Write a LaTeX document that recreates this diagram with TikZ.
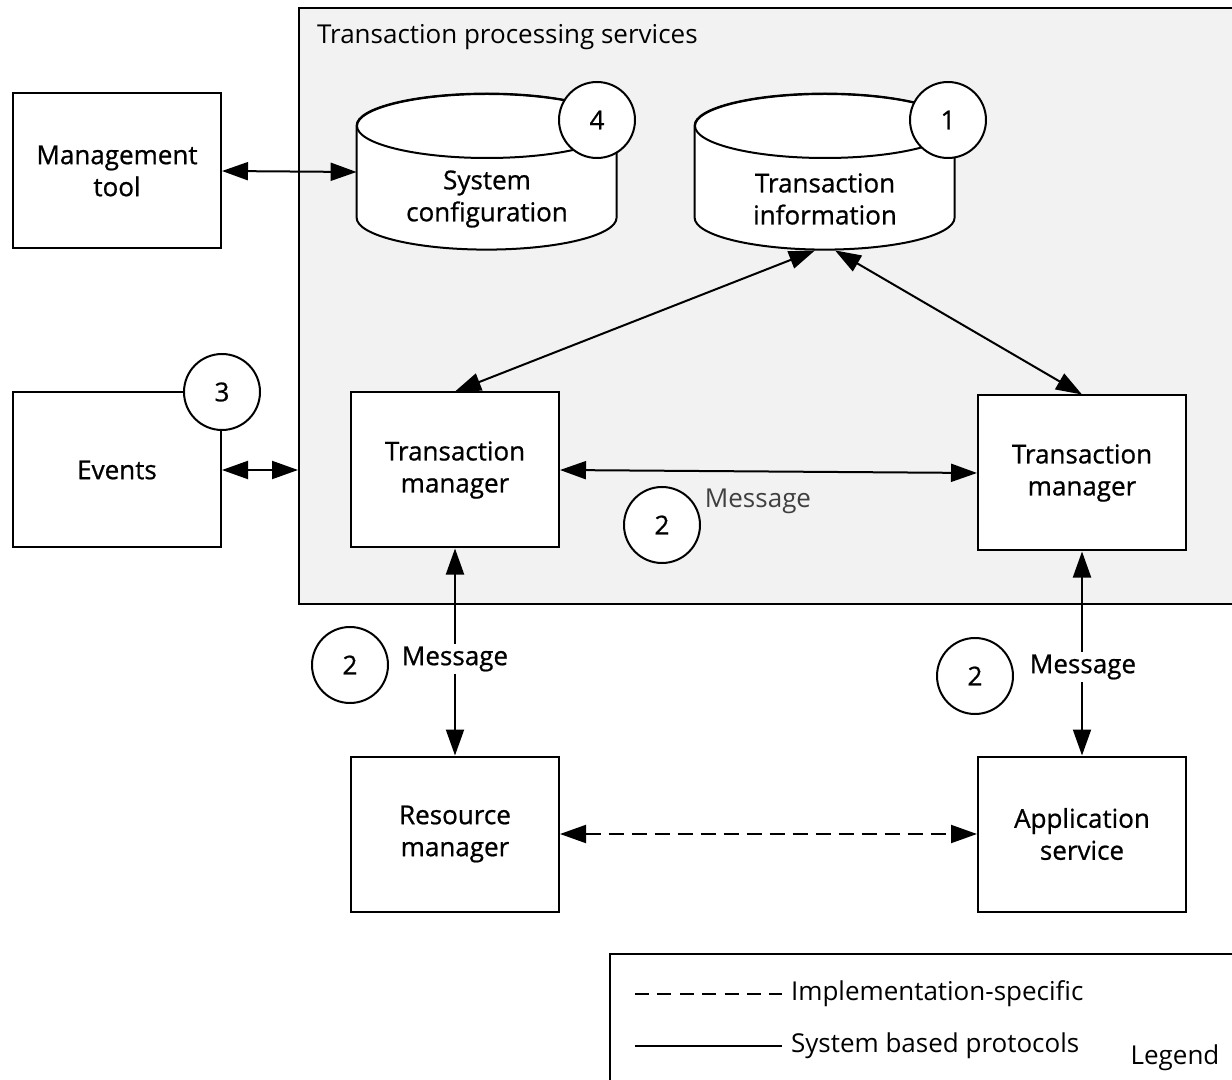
\documentclass[tikz,border=0pt]{standalone}
\usepackage{fontspec}
\setmainfont{Open Sans}
\newfontfamily\semifont[FakeBold=0.8]{Open Sans}
\usetikzlibrary{arrows.meta,positioning}
\definecolor{panelgray}{RGB}{242,242,242}
\tikzset{
  every node/.style={font=\fontsize{13}{16}\selectfont},
  strong/.style={font=\semifont\fontsize{13}{16}\selectfont},
  box/.style={strong, draw, fill=white, line width=1pt, minimum width=104pt, minimum height=77.5pt, inner sep=0pt, align=center},
  store/.style={draw=none, inner sep=0pt, minimum width=130pt, minimum height=78pt},
  storeline/.style={draw, fill=white, line width=1pt},
  badge/.style={strong, draw, fill=white, circle, line width=1pt, minimum size=38pt, inner sep=0pt},
  msg/.style={strong, fill=white, inner sep=1.5pt},
  link/.style={line width=1pt, {Triangle[length=13pt,width=9pt]}-{Triangle[length=13pt,width=9pt]}},
}
\begin{document}
\begin{tikzpicture}[x=0.5pt,y=-0.5pt]
\useasboundingbox (0,0) rectangle (1232,1080);
\clip (0,0) rectangle (1232,1080);
% panel
\node[draw, fill=panelgray, line width=1pt, minimum width=470.5pt, minimum height=298pt, inner sep=0pt] (tps) at (769.5,306) {};
\node[anchor=west] (tpstitle) at (310,37) {Transaction processing services};
% outside boxes
\node[box] (mgmt) at (117,171) {Management\\tool};
\node[box] (events) at (117,470) {Events};
% stores
\node[store] (sysconf) at (487,172) {};
\draw[storeline] (sysconf.north west) ++(0,32) -- ++(0,92) arc (180:0:130 and 32) -- ++(0,-92) arc (0:-180:130 and 32) -- cycle;
\draw[line width=1pt] (487,126) ellipse (130 and 32);
\node[strong, align=center] (sysconftext) at (487,199) {System\\configuration};
\node[store] (tinfo) at (825,172) {};
\draw[storeline] (tinfo.north west) ++(0,32) -- ++(0,92) arc (180:0:130 and 32) -- ++(0,-92) arc (0:-180:130 and 32) -- cycle;
\draw[line width=1pt] (825,126) ellipse (130 and 32);
\node[strong, align=center] (tinfotext) at (825,199) {Transaction\\information};
% managers
\node[box] (tmleft) at (455,470) {Transaction\\manager};
\node[box] (tmright) at (1082,473) {Transaction\\manager};
\node[box] (resmgr) at (455,834) {Resource\\manager};
\node[box] (appsvc) at (1082,834) {Application\\service};
% connectors
\draw[link] (mgmt.east) -- (sysconf.west);
\draw[link] (events.east) -- (events.east -| tps.west);
\draw[link] ([xshift=-5pt]tinfo.south) -- (tmleft.north);
\draw[link] ([xshift=5pt]tinfo.south) -- (tmright.north);
\draw[link] (tmleft.east) -- (tmright.west);
\draw[link] (tmleft.south) -- (resmgr.north);
\draw[link] (tmright.south) -- (appsvc.north);
\draw[link, dash pattern=on 7.5pt off 4pt] (resmgr.east) -- (appsvc.west);
% labels
\node[text=black!75] (msgmid) at (758,501) {Message};
\node[msg] (msgleft) at (455,659) {Message};
\node[msg] (msgright) at (1083,667) {Message};
\node[badge] (num4) at (597,120) {4};
\node[badge] (num1) at (948,120) {1};
\node[badge] (num3) at (222,392) {3};
\node[badge] (num2a) at (662,525) {2};
\node[badge] (num2b) at (350,665) {2};
\node[badge] (num2c) at (975,676) {2};
% legend
\node[draw, fill=white, line width=1pt, minimum width=315pt, minimum height=68pt, inner sep=0pt] (legend) at (925,1022) {};
\node[anchor=west] (implspec) at (784,994) {Implementation-specific};
\node[anchor=west] (sysproto) at (784,1046) {System based protocols};
\node (legendtitle) at (1175,1058) {Legend};
\coordinate (dashstart) at (635,994);
\coordinate (solidstart) at (635,1046);
\draw[line width=1pt, dash pattern=on 7pt off 4.2pt] (dashstart) -- ([xshift=-1pt]implspec.west);
\draw[line width=1pt] (solidstart) -- ([xshift=-1pt]sysproto.west);
\end{tikzpicture}
\end{document}
